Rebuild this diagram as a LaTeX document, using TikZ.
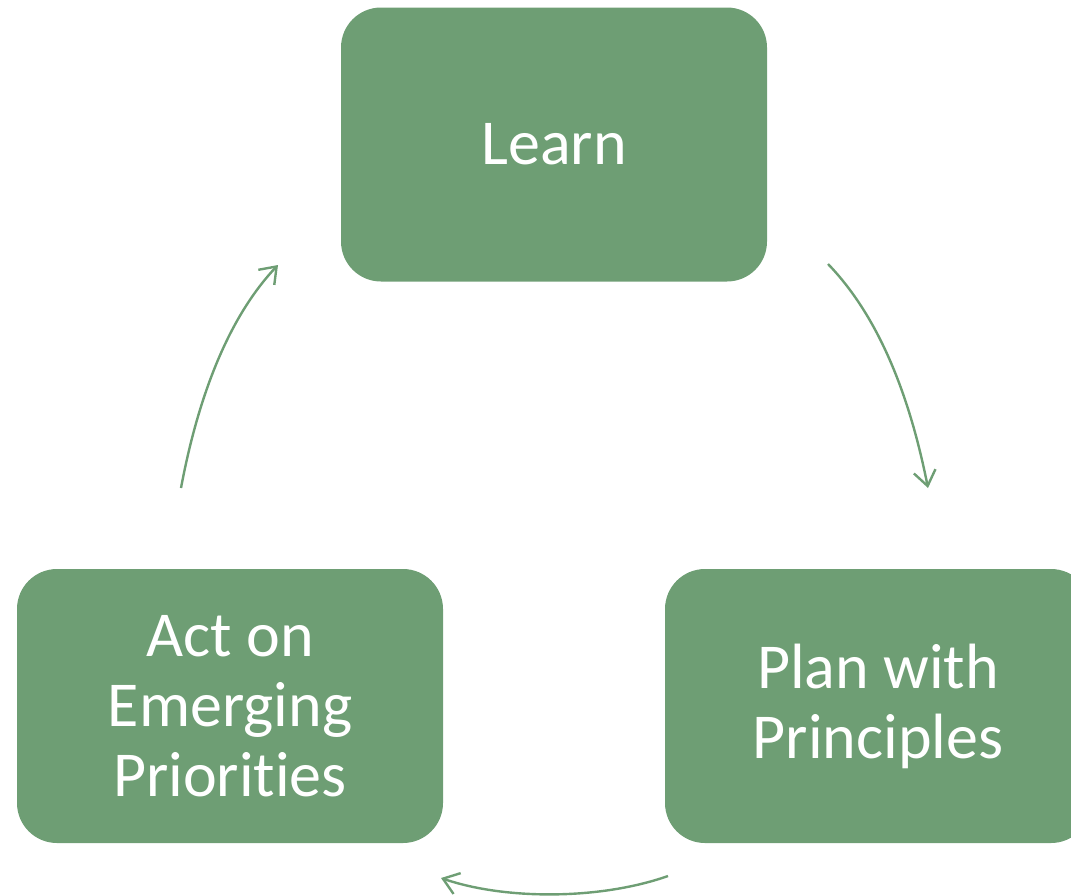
\documentclass[tikz,border=0pt]{standalone}
\usepackage{fontspec}
\setmainfont{Carlito}[Ligatures={NoCommon,NoContextual}]
\usetikzlibrary{arrows.meta}
\definecolor{boxgreen}{HTML}{6E9E74}
\tikzset{
  stage/.style={fill=boxgreen, draw=none, rounded corners=40pt, text=white,
    align=center, minimum width=426pt, minimum height=274pt, inner sep=0pt,
    font=\fontsize{64}{70}\selectfont},
  cyc/.style={draw=boxgreen, line width=2.4pt, -{Straight Barb[length=15pt,width=22pt,line width=2.4pt]}}
}
\begin{document}
\begin{tikzpicture}[x=1pt,y=-1pt]
\useasboundingbox (0,0) rectangle (1071,895);
\clip (0,0) rectangle (1071,895);
\node[stage] (learn) at (554,144.5) {Learn};
\node[stage] (plan) at (878,706) {Plan with\\Principles};
\node[stage] (act) at (230,706) {Act on\\Emerging\\Priorities};
\coordinate (a1) at (828,264);
\coordinate (a2) at (928,488);
\coordinate (b1) at (668,876);
\coordinate (b2) at (441,878);
\coordinate (c1) at (181,488);
\coordinate (c2) at (278,265);
\draw[cyc] (a1) .. controls (884,322) and (912,408) .. (a2);
\draw[cyc] (b1) .. controls (600,900) and (505,900) .. (b2);
\draw[cyc] (c1) .. controls (196,408) and (224,322) .. (c2);
\end{tikzpicture}
\end{document}
